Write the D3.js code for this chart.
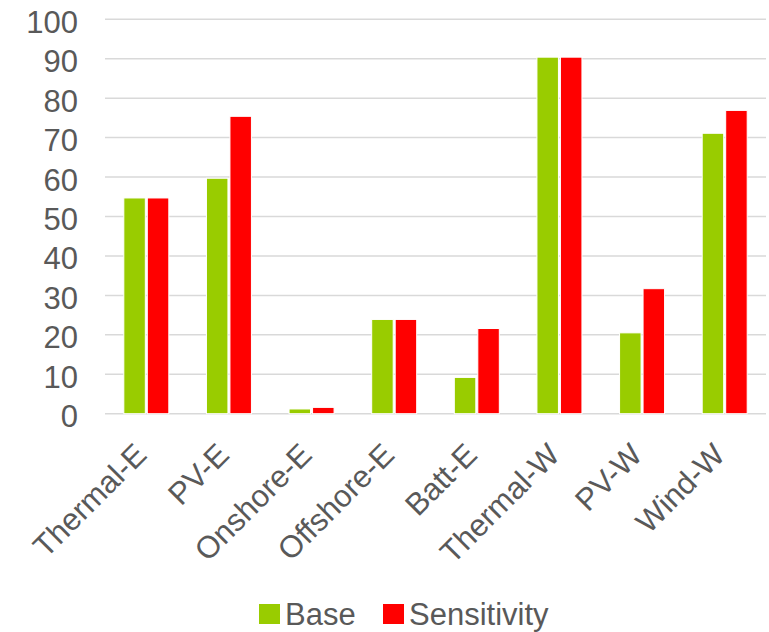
<!DOCTYPE html>
<html>
<head>
<meta charset="utf-8">
<script src="https://cdn.jsdelivr.net/npm/d3@7"></script>
<style>
  html, body { margin: 0; padding: 0; background: #fff; }
  svg text { font-family: "Liberation Sans", Arial, sans-serif; fill: #595959; }
</style>
</head>
<body>
<svg id="chart" width="769" height="632"></svg>
<script>
// Capacity by technology and region, two scenarios
const categories = ["Thermal-E", "PV-E", "Onshore-E", "Offshore-E", "Batt-E", "Thermal-W", "PV-W", "Wind-W"];
const baseValues = [54.7, 59.7, 1.2, 23.9, 9.2, 90.4, 20.5, 71.1];
const sensitivityValues = [54.7, 75.4, 1.6, 23.9, 21.6, 90.4, 31.7, 76.9];
const seriesNames = ["Base", "Sensitivity"];
const seriesColors = ["#99CC00", "#FF0000"];
const yTicks = [0, 10, 20, 30, 40, 50, 60, 70, 80, 90, 100];

const svg = d3.select("#chart");
const margin = { left: 105, right: 3, top: 19.3, bottom: 218.3 };
const W = 769, H = 632;
const fontSize = 31;

const x = d3.scaleBand().domain(categories).range([margin.left, W - margin.right]).paddingInner(0).paddingOuter(0);
const y = d3.scaleLinear().domain([0, 100]).range([H - margin.bottom, margin.top]);

// group inner scale: two bars side by side around the category centre
const groupWidth = 47;
const x1 = d3.scaleBand().domain(seriesNames).range([0, groupWidth]);

// gridlines
svg.append("g")
  .selectAll("line")
  .data(yTicks)
  .join("line")
  .attr("x1", margin.left)
  .attr("x2", W - margin.right)
  .attr("y1", d => y(d))
  .attr("y2", d => y(d))
  .attr("stroke", "#d9d9d9")
  .attr("stroke-width", 1.5);

// y axis labels
const yAxis = d3.axisLeft(y).tickValues(yTicks).tickSize(0).tickPadding(0);
const yg = svg.append("g").attr("transform", `translate(${margin.left - 27},0)`).call(yAxis);
yg.select(".domain").remove();
yg.selectAll("text")
  .attr("font-size", fontSize)
  .attr("font-family", "Liberation Sans, Arial, sans-serif")
  .attr("fill", "#595959")
  .attr("dy", "0.42em");

// bars
const rows = categories.map((c, i) => ({ cat: c, vals: [baseValues[i], sensitivityValues[i]] }));
const groups = svg.append("g")
  .selectAll("g")
  .data(rows)
  .join("g")
  .attr("transform", d => `translate(${x(d.cat) + x.bandwidth() / 2 - groupWidth / 2},0)`);

groups.selectAll("rect")
  .data(d => d.vals.map((v, j) => ({ name: seriesNames[j], v, color: seriesColors[j] })))
  .join("rect")
  .attr("x", d => x1(d.name) + 1)
  .attr("width", x1.bandwidth() - 2)
  .attr("y", d => y(d.v))
  .attr("height", d => y(0) - y(d.v))
  .attr("fill", d => d.color)
  .attr("stroke", "#ffffff")
  .attr("stroke-width", 1);

// category labels, rotated
svg.append("g")
  .selectAll("text")
  .data(categories)
  .join("text")
  .attr("transform", d => `translate(${x(d) + x.bandwidth() / 2 + 2},${y(0) + 43}) rotate(-45)`)
  .attr("text-anchor", "end")
  .attr("font-size", fontSize)
  .text(d => d);

// legend
const legend = svg.append("g");
const legendItems = [
  { name: seriesNames[0], color: seriesColors[0], x: 259 },
  { name: seriesNames[1], color: seriesColors[1], x: 383 }
];
legendItems.forEach(it => {
  legend.append("rect")
    .attr("x", it.x).attr("y", 604)
    .attr("width", 21).attr("height", 20)
    .attr("fill", it.color);
  legend.append("text")
    .attr("x", it.x + 26).attr("y", 624.5)
    .attr("font-size", fontSize)
    .text(it.name);
});
</script>
</body>
</html>
